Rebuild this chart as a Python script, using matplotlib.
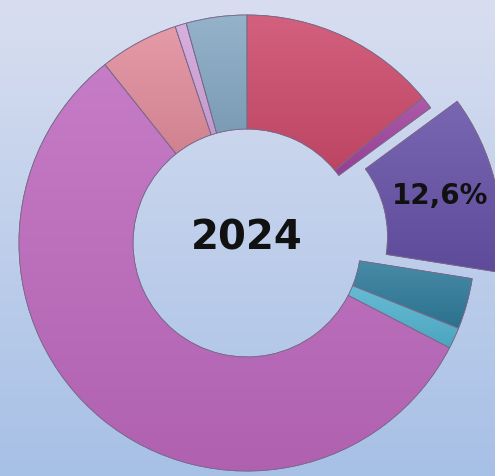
import numpy as np
import matplotlib
matplotlib.use("Agg")
import matplotlib.pyplot as plt
from matplotlib.patches import Wedge
from matplotlib.colors import LinearSegmentedColormap, to_rgb

# shares of the 2024 ring, clockwise from 12 o'clock
shares = [14.0, 0.9, 12.6, 3.6, 1.5, 56.7, 5.6, 0.8, 4.3]
colors = ["#cd4b6c", "#a2449f", "#6652a8", "#2f7b9b", "#52b3cf",
          "#bf6abf", "#e28d9c", "#d3a6dc", "#86a9c4"]
highlight = 2  # the exploded slice
year = "2024"

W, H = 495, 476
cx, cy, R = 247, 243, 228  # ring centre/radius in pixels

fig = plt.figure(figsize=(W / 100, H / 100), dpi=100)
ax = fig.add_axes([0, 0, 1, 1])
xlim = (-cx / R, (W - cx) / R)
ylim = (-(H - cy) / R, cy / R)

# background gradient
bg = LinearSegmentedColormap.from_list("bg", ["#a7c0e6", "#d8def0"])
grad = np.linspace(0, 1, 256).reshape(-1, 1)
ax.imshow(grad, cmap=bg, extent=(*xlim, *ylim), origin="lower",
          aspect="auto", zorder=0)

explode = [0.12 if i == highlight else 0 for i in range(len(shares))]
wedges, _ = ax.pie(shares, colors=colors, startangle=90, counterclock=False,
                   explode=explode, radius=1.0,
                   wedgeprops=dict(width=0.5, edgecolor="#7a6a8a", linewidth=0.6))


def shade(c, f):
    c = np.array(to_rgb(c))
    return np.clip(c + (1 - c) * f if f > 0 else c * (1 + f), 0, 1)


# soft top-to-bottom shading inside each slice
for w, c in zip(wedges, colors):
    w.set_zorder(2)
    bb = w.get_path().get_extents(w.get_patch_transform())
    cm = LinearSegmentedColormap.from_list("s", [shade(c, -0.08), shade(c, 0.12)])
    im = ax.imshow(grad, cmap=cm, extent=(bb.x0, bb.x1, bb.y0, bb.y1),
                   origin="lower", aspect="auto", zorder=2.1)
    im.set_clip_path(w)
    ax.add_patch(Wedge(w.center, w.r, w.theta1, w.theta2, width=w.width,
                       fill=False, edgecolor="#7a6a8a", linewidth=0.6, zorder=2.2))

# label on the exploded slice
w = wedges[highlight]
mid = np.deg2rad((w.theta1 + w.theta2) / 2)
r_lab = 0.75
lx = w.center[0] + r_lab * np.cos(mid)
ly = w.center[1] + r_lab * np.sin(mid)
ax.text(lx, ly, f"{shares[highlight]:.1f}%".replace(".", ","), ha="center", va="center",
        fontsize=20, fontweight="bold", color="#111111", zorder=3)

ax.text(0, 0.02, year, ha="center", va="center", fontsize=29,
        fontweight="bold", color="#111111", zorder=3)

ax.set_xlim(*xlim)
ax.set_ylim(*ylim)
ax.set_aspect("auto")
ax.axis("off")

fig.savefig("out.png", dpi=100)
